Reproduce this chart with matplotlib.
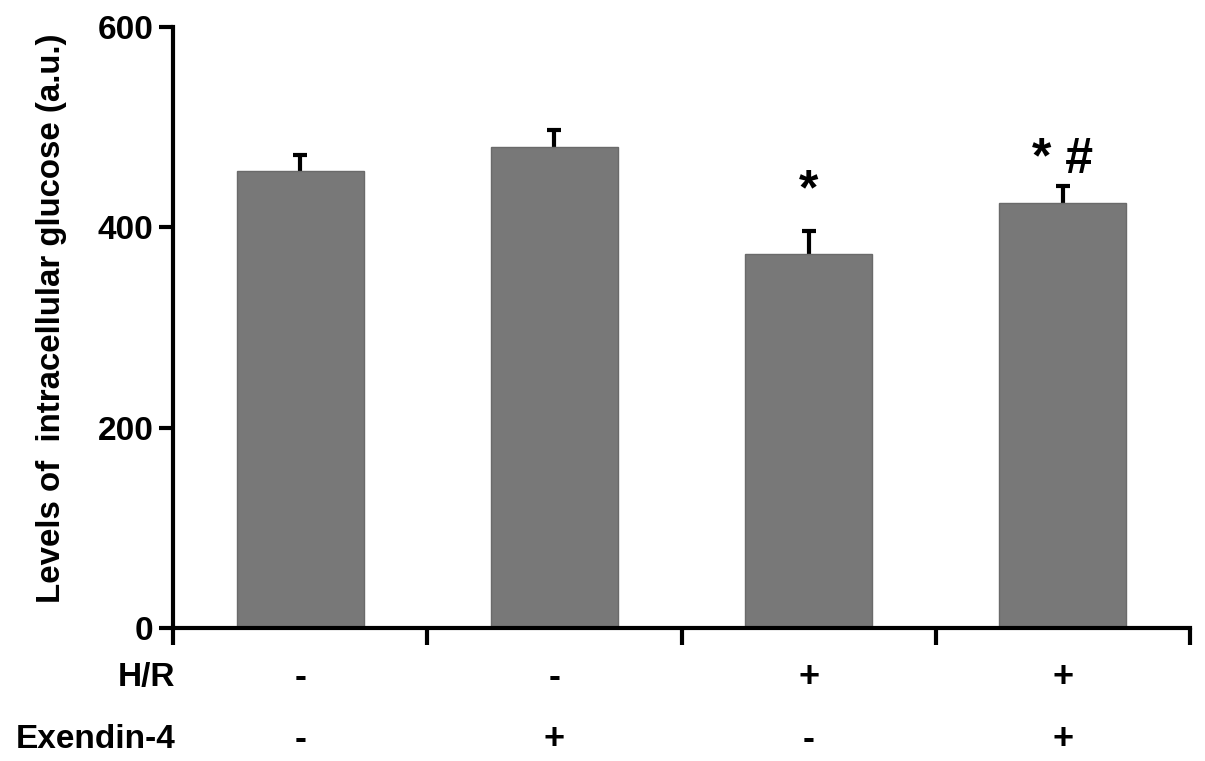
import matplotlib.pyplot as plt
import numpy as np

plt.rcParams['font.family'] = ['Liberation Sans', 'DejaVu Sans']
plt.rcParams['font.weight'] = 'bold'

# values
groups = ['ctrl', 'ex4', 'hr', 'hr_ex4']
glucose = [456, 480, 373, 424]
glucose_err = [16, 17, 23, 17]
hr_signs = ['-', '-', '+', '+']
ex4_signs = ['-', '+', '-', '+']
marks = ['', '', '*', '* #']

fig = plt.figure(figsize=(12.05, 7.61), dpi=100)
ax = fig.add_axes([0.1436, 0.1748, 0.9876 - 0.1436, 0.9645 - 0.1748])

x = np.arange(len(groups))
# error bars behind the bars so only the upper half shows
ax.errorbar(x, glucose, yerr=glucose_err, fmt='none',
            ecolor='black', elinewidth=3, capsize=5, capthick=3, zorder=1)
ax.bar(x, glucose, width=0.5, color='#787878', edgecolor='#6a6a6a', linewidth=1, zorder=2)

# gap between error cap and the significance mark
mark_gap = [0, 0, 40, 26]
for xi, y, e, m, g in zip(x, glucose, glucose_err, marks, mark_gap):
    if m:
        ax.text(xi, y + e + g, m, ha='center', va='center', fontsize=36, fontweight='bold')

ax.set_xlim(-0.5, 3.5)
ax.set_ylim(0, 600)
ax.set_yticks([0, 200, 400, 600])
ax.set_xticks([-0.5, 0.5, 1.5, 2.5, 3.5])
ax.set_xticklabels([])
ax.tick_params(axis='y', labelsize=24, width=3, length=10, pad=4)
ax.tick_params(axis='x', width=3, length=12, direction='out')
for lab in ax.get_yticklabels():
    lab.set_fontweight('bold')

for s in ['top', 'right']:
    ax.spines[s].set_visible(False)
for s in ['left', 'bottom']:
    ax.spines[s].set_linewidth(3)

ax.set_ylabel('Levels of  intracellular glucose (a.u.)', fontsize=23.8, fontweight='bold')
ax.yaxis.set_label_coords(-0.104, 0.515)

# treatment rows below the axis
row_y = [-0.083, -0.186]
ax.text(-0.49, row_y[0], 'H/R', transform=ax.get_xaxis_transform(), ha='right', va='center',
        fontsize=24, fontweight='bold')
ax.text(-0.49, row_y[1], 'Exendin-4', transform=ax.get_xaxis_transform(), ha='right', va='center',
        fontsize=24, fontweight='bold')
for xi, h, e in zip(x, hr_signs, ex4_signs):
    ax.text(xi, row_y[0], h, transform=ax.get_xaxis_transform(), ha='center', va='center',
            fontsize=26, fontweight='bold')
    ax.text(xi, row_y[1], e, transform=ax.get_xaxis_transform(), ha='center', va='center',
            fontsize=26, fontweight='bold')

plt.savefig('out.png', dpi=100)
